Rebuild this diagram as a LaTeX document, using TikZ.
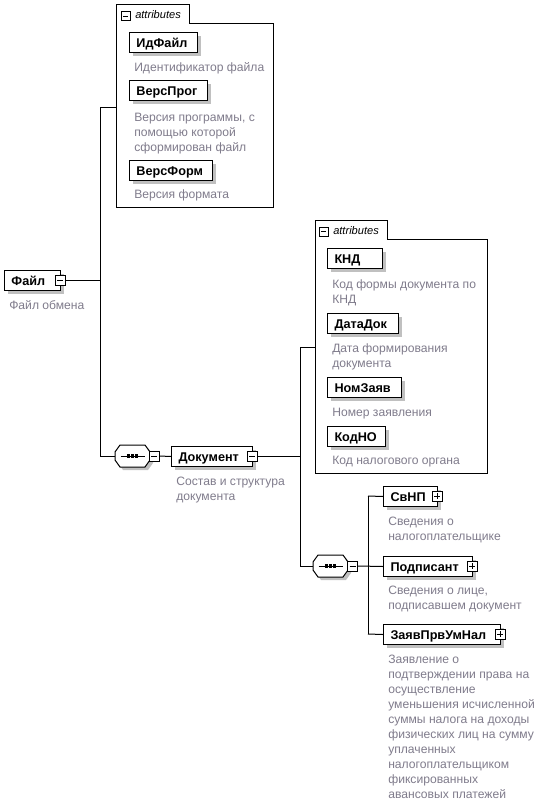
\documentclass[tikz,border=0pt]{standalone}
\usepackage{fontspec}
\setmainfont{Liberation Sans}
\usetikzlibrary{calc}
\newdimen\pxu \pxu=0.75pt
\definecolor{descgray}{RGB}{128,124,140}
\definecolor{shadowc}{RGB}{192,192,192}
\newcommand\namefont{\fontsize{9.5}{11}\selectfont\bfseries}
\newcommand\descfont{\fontsize{9.1}{11.25}\selectfont}
\newcommand\attrfont{\fontsize{8.3}{10}\selectfont\itshape}
\tikzset{
  conn/.style={line width=0.75pt, draw=black},
  elembox/.style={draw=black, line width=0.75pt, fill=white, anchor=north west,
    inner xsep=0pt, inner ysep=0pt, minimum height=15pt,
    text height=9.75pt, text depth=2.25pt, font=\namefont},
  desc/.style={anchor=north west, inner sep=0pt, align=left, font=\descfont, text=descgray},
  sqmark/.style={draw=black, line width=0.75pt, fill=white, minimum size=7.5pt, inner sep=0pt},
  minusmark/.style={sqmark, path picture={
    \draw[line width=0.75pt] ([xshift=1.5pt]path picture bounding box.west) -- ([xshift=-1.5pt]path picture bounding box.east);}},
  plusmark/.style={sqmark, path picture={
    \draw[line width=0.75pt] ([xshift=1.5pt]path picture bounding box.west) -- ([xshift=-1.5pt]path picture bounding box.east);
    \draw[line width=0.75pt] ([yshift=-1.5pt]path picture bounding box.north) -- ([yshift=1.5pt]path picture bounding box.south);}},
  attrlabel/.style={anchor=base west, inner sep=0pt, font=\attrfont},
}
% element box: name, x, y(top), width, text
\newcommand\elem[5]{%
  \fill[shadowc] ({#2+4},{#3+4}) rectangle ++(#4,20);
  \node[elembox] (#1) at (#2,#3) {\makebox[#4\pxu][l]{\hspace*{7\pxu}#5}};
}
% sequence compositor: name, cx, cy
\newcommand\seqc[3]{%
  \begin{scope}[shift={(#2,#3)}]
    \fill[shadowc] (-14.5,-1) -- (-9.5,-8) -- (15.5,-8) -- (20.5,-1) -- (20.5,7) -- (15.5,14) -- (-9.5,14) -- (-14.5,7) -- cycle;
    \draw[conn, fill=white] (-17.5,-4) -- (-12.5,-11) -- (12.5,-11) -- (17.5,-4) -- (17.5,4) -- (12.5,11) -- (-12.5,11) -- (-17.5,4) -- cycle;
    \draw[conn] (-12,0) -- (12,0);
    \fill (-5.5,-1.6) rectangle (-2.3,1.6);
    \fill (-1.6,-1.6) rectangle (1.6,1.6);
    \fill (2.3,-1.6) rectangle (5.5,1.6);
    \node[inner sep=0pt, minimum width=26.25pt, minimum height=16.5pt] (#1) at (0,0) {};
  \end{scope}}
\begin{document}
\begin{tikzpicture}[x=0.75pt, y=-0.75pt]
\fill[white] (0,0) rectangle (539,801);
\useasboundingbox (0,0) rectangle (539,801);

% ---------- attribute group 1 ----------
\draw[conn] (116,4) -- (189,4) -- (189,23) -- (273,23) -- (273,207) -- (116,207) -- cycle;
\node[minusmark, minimum size=6.75pt] (at1m) at (125.5,16) {};
\node[attrlabel] (at1l) at (135,18) {attributes};
\coordinate (attr1) at (116,107);

\elem{idf}{129}{32}{68}{ИдФайл}
\node[desc] (idfd) at (134,{71-10.5}) {\strut Идентификатор файла};
\elem{vprog}{129}{80}{78}{ВерсПрог}
\node[desc] (vprogd) at (134,{121-10.5}) {\strut Версия программы, с\\помощью которой\\сформирован файл};
\elem{vform}{129}{160}{83}{ВерсФорм}
\node[desc] (vformd) at (134,{198.5-10.5}) {\strut Версия формата};

% ---------- root ----------
\elem{fajl}{4}{270}{56}{Файл}
\node[minusmark] (fajlm) at (60,280) {};
\node[desc] (fajld) at (9,{309.5-10.5}) {\strut Файл обмена};

% ---------- sequence 1 / Документ ----------
\seqc{seq1}{132.5}{456}
\node[minusmark] (seq1m) at (154,456) {};
\elem{dok}{171}{446}{81}{Документ}
\node[minusmark] (dokm) at (252,456) {};
\node[desc] (dokd) at (176,{485.3-10.5}) {\strut Состав и структура\\документа};

% ---------- attribute group 2 ----------
\draw[conn] (315,220) -- (387,220) -- (387,239) -- (487,239) -- (487,473) -- (315,473) -- cycle;
\node[minusmark, minimum size=6.75pt] (at2m) at (323.5,231.5) {};
\node[attrlabel] (at2l) at (333,234) {attributes};
\coordinate (attr2) at (315,347);

\elem{knd}{327}{248}{55}{КНД}
\node[desc] (kndd) at (332,{288.6-10.5}) {\strut Код формы документа по\\КНД};
\elem{datad}{327}{313}{71}{ДатаДок}
\node[desc] (datadd) at (332,{352-10.5}) {\strut Дата формирования\\документа};
\elem{nomz}{327}{377}{74}{НомЗаяв}
\node[desc] (nomzd) at (332,{416.3-10.5}) {\strut Номер заявления};
\elem{kodno}{327}{426}{58}{КодНО}
\node[desc] (kodnod) at (332,{464.3-10.5}) {\strut Код налогового органа};

% ---------- sequence 2 ----------
\seqc{seq2}{330.5}{566}
\node[minusmark] (seq2m) at (352.5,566) {};

\elem{svnp}{383}{486}{54}{СвНП}
\node[plusmark] (svnpm) at (437,496) {};
\node[desc] (svnpd) at (388,{525.3-10.5}) {\strut Сведения о\\налогоплательщике};
\elem{podp}{383}{556}{89}{Подписант}
\node[plusmark] (podpm) at (472,566) {};
\node[desc] (podpd) at (388,{594.6-10.5}) {\strut Сведения о лице,\\подписавшем документ};
\elem{zayav}{383}{624}{117}{ЗаявПрвУмНал}
\node[plusmark] (zayavm) at (500,634) {};
\node[desc] (zayavd) at (388,{663.6-10.5}) {\strut Заявление о\\подтверждении права на\\осуществление\\уменьшения исчисленной\\суммы налога на доходы\\физических лиц на сумму\\уплаченных\\налогоплательщиком\\фиксированных\\авансовых платежей};

% ---------- connectors ----------
\coordinate (j1) at (100,280);
\coordinate (j1t) at (100,107);
\coordinate (j1b) at (100,456);
\draw[conn] (fajlm.east) -- (j1);
\draw[conn] (j1t) -- (j1b);
\draw[conn] (j1t) -- (attr1);
\draw[conn] (j1b) -- (seq1.west);
\draw[conn] (seq1m.east) -- (dok.west);

\coordinate (j2) at (300,456);
\coordinate (j2t) at (300,347);
\coordinate (j2b) at (300,566);
\draw[conn] (dokm.east) -- (j2);
\draw[conn] (j2t) -- (j2b);
\draw[conn] (j2t) -- (attr2);
\draw[conn] (j2b) -- (seq2.west);
\draw[conn] (seq2m.east) -- (podp.west);

\coordinate (j3t) at (368,496);
\coordinate (j3b) at (368,634);
\draw[conn] (j3t) -- (j3b);
\draw[conn] (j3t) -- (svnp.west);
\draw[conn] (j3b) -- (zayav.west);
\end{tikzpicture}
\end{document}
